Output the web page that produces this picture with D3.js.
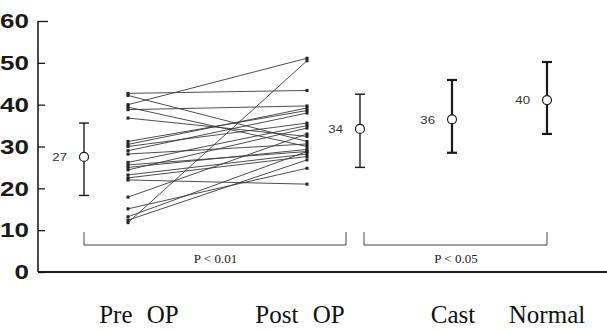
<!DOCTYPE html>
<html>
<head>
<meta charset="utf-8">
<script src="https://cdn.jsdelivr.net/npm/d3@7"></script>
<style>
  body { margin: 0; background: #fff; }
  svg { display: block; }
</style>
</head>
<body>
<div id="chart"></div>
<script>
// values
const yTicks = [0, 10, 20, 30, 40, 50, 60];
const categories = ['Pre OP', 'Post OP', 'Cast', 'Normal'];

// paired individual cases (pre -> post)
const preValues  = [42.7, 42.2, 40.0, 39.4, 38.8, 36.8, 31.2, 30.5, 30.0, 29.0, 28.2, 26.2,
                    25.6, 25.0, 24.4, 23.2, 22.5, 22.0, 17.9, 15.1, 13.2, 12.4, 11.8];
const postValues = [43.4, 31.2, 51.1, 30.0, 39.7, 32.4, 38.6, 39.2, 35.6, 38.0, 30.6, 35.0,
                    28.8, 29.3, 34.4, 28.2, 27.6, 21.0, 33.0, 24.8, 28.8, 26.8, 50.5];

// group summaries: mean, mean + sd, mean - sd
const summaryGroups = ['pre', 'post', 'cast', 'normal'];
const summaryLabels = ['27', '34', '36', '40'];
const summaryMeans  = [27.5, 34.2, 36.5, 41.1];
const summaryHigh   = [35.6, 42.5, 45.9, 50.2];
const summaryLow    = [18.3, 25.0, 28.5, 33.0];

const pLabels = ['P < 0.01', 'P < 0.05'];

const width = 607, height = 332;

const svg = d3.select('#chart').append('svg')
  .attr('width', width)
  .attr('height', height);

const y = d3.scaleLinear().domain([0, 60]).range([272, 21]);

// horizontal layout of the columns
const x = d3.scaleOrdinal()
  .domain(['preMean', 'pre', 'post', 'postMean', 'castMean', 'normalMean'])
  .range([84, 128, 307, 360, 452, 547]);
const meanKey = { pre: 'preMean', post: 'postMean', cast: 'castMean', normal: 'normalMean' };
const labelX = d3.scaleOrdinal().domain(categories).range([139, 300, 453, 547]);

const ink = '#1a1a1a';

// y axis
const yAxis = svg.append('g')
  .attr('transform', 'translate(38,0)')
  .call(d3.axisRight(y).tickValues(yTicks).tickSize(7).tickFormat(''));
yAxis.select('.domain').attr('d', 'M0,' + y(60) + 'V' + y(0)).attr('stroke', ink).attr('stroke-width', 1.6);
yAxis.selectAll('.tick line').attr('stroke', ink).attr('stroke-width', 1.3);
yAxis.selectAll('.tick').filter(d => d === 60).select('line').attr('x2', 10);

svg.append('g').selectAll('text')
  .data(yTicks)
  .join('text')
  .attr('transform', d => 'translate(29,' + y(d) + ') scale(1.3,1)')
  .attr('dy', '0.36em')
  .attr('text-anchor', 'end')
  .attr('font-family', 'Liberation Sans, Arial, sans-serif')
  .attr('font-weight', 'bold')
  .attr('font-size', 20)
  .attr('fill', ink)
  .text(d => d);

// baseline
svg.append('line')
  .attr('x1', 38).attr('x2', width)
  .attr('y1', y(0)).attr('y2', y(0))
  .attr('stroke', ink).attr('stroke-width', 1.8);

// individual lines
const pairs = preValues.map((v, i) => ({ pre: v, post: postValues[i] }));
svg.append('g').selectAll('line')
  .data(pairs)
  .join('line')
  .attr('x1', x('pre')).attr('y1', d => y(d.pre))
  .attr('x2', x('post')).attr('y2', d => y(d.post))
  .attr('stroke', '#3a3a3a')
  .attr('stroke-width', 0.9);

svg.append('g').selectAll('rect')
  .data(preValues.map(v => ({ k: 'pre', v })).concat(postValues.map(v => ({ k: 'post', v }))))
  .join('rect')
  .attr('x', d => x(d.k) - 1.5)
  .attr('y', d => y(d.v) - 1.5)
  .attr('width', 3).attr('height', 3)
  .attr('fill', '#222');

// mean +- sd markers
const summary = summaryGroups.map((g, i) => ({
  g, label: summaryLabels[i], mean: summaryMeans[i], hi: summaryHigh[i], lo: summaryLow[i],
  heavy: g === 'cast' || g === 'normal'
}));
const bars = svg.append('g').selectAll('g')
  .data(summary)
  .join('g')
  .attr('transform', d => 'translate(' + x(meanKey[d.g]) + ',0)');

bars.append('line')
  .attr('y1', d => y(d.hi)).attr('y2', d => y(d.lo))
  .attr('stroke', ink).attr('stroke-width', d => d.heavy ? 2.2 : 1.4);
bars.append('line')
  .attr('x1', -5).attr('x2', 5)
  .attr('y1', d => y(d.hi)).attr('y2', d => y(d.hi))
  .attr('stroke', ink).attr('stroke-width', d => d.heavy ? 2.2 : 1.4);
bars.append('line')
  .attr('x1', -5).attr('x2', 5)
  .attr('y1', d => y(d.lo)).attr('y2', d => y(d.lo))
  .attr('stroke', ink).attr('stroke-width', d => d.heavy ? 2.2 : 1.4);
bars.append('circle')
  .attr('cy', d => y(d.mean))
  .attr('r', 4.5)
  .attr('fill', '#fff')
  .attr('stroke', ink).attr('stroke-width', 1.2);
bars.append('text')
  .attr('transform', d => 'translate(-17,' + y(d.mean) + ') scale(1.2,1)')
  .attr('dy', '0.4em')
  .attr('text-anchor', 'end')
  .attr('font-family', 'Liberation Sans, Arial, sans-serif')
  .attr('font-size', 11)
  .attr('fill', '#333')
  .text(d => d.label);

// significance brackets
const brackets = [
  { x1: x('preMean'), x2: 346, label: pLabels[0] },
  { x1: 364, x2: x('normalMean'), label: pLabels[1] }
];
const br = svg.append('g').selectAll('g').data(brackets).join('g');
br.append('path')
  .attr('d', d => 'M' + d.x1 + ',232V245H' + d.x2 + 'V232')
  .attr('fill', 'none')
  .attr('stroke', '#444')
  .attr('stroke-width', 1);
br.append('text')
  .attr('x', d => (d.x1 + d.x2) / 2 + 0.5)
  .attr('y', 263)
  .attr('text-anchor', 'middle')
  .attr('font-family', 'Liberation Serif, Times New Roman, serif')
  .attr('font-size', 13)
  .attr('fill', ink)
  .text(d => d.label);

// category labels
svg.append('g').selectAll('text')
  .data(categories)
  .join('text')
  .attr('x', d => labelX(d))
  .attr('y', 323)
  .attr('text-anchor', 'middle')
  .attr('font-family', 'Liberation Serif, Times New Roman, serif')
  .attr('font-size', 25)
  .attr('word-spacing', 8)
  .attr('fill', '#111')
  .text(d => d);
</script>
</body>
</html>
